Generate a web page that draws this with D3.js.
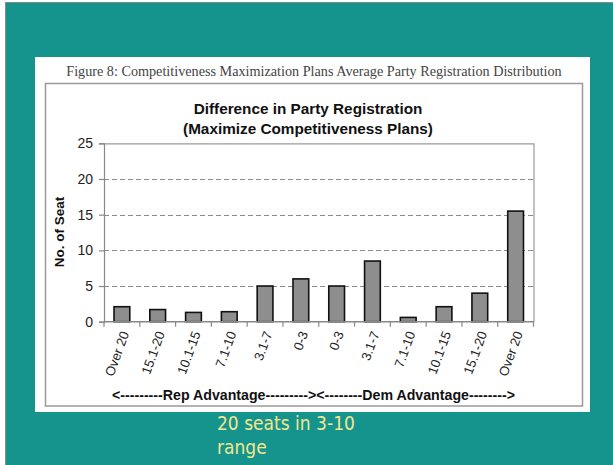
<!DOCTYPE html>
<html><head><meta charset="utf-8">
<script src="https://cdn.jsdelivr.net/npm/d3@7"></script>
<style>html,body{margin:0;padding:0;background:#fff;}svg{display:block;}</style>
</head><body>
<script>
const categories = ["Over 20","15.1-20","10.1-15","7.1-10","3.1-7","0-3","0-3","3.1-7","7.1-10","10.1-15","15.1-20","Over 20"];
const seats = [2.1, 1.7, 1.3, 1.4, 5.0, 6.0, 5.0, 8.5, 0.6, 2.1, 4.0, 15.5];
const yTicks = [0, 5, 10, 15, 20, 25];
const caption = "Figure 8: Competitiveness Maximization Plans Average Party Registration Distribution";
const titleLines = ["Difference in Party Registration", "(Maximize Competitiveness Plans)"];
const yTitle = "No. of Seat";
const groupLabel = "<---------Rep Advantage---------><--------Dem Advantage-------->";
const noteLines = ["20 seats in 3-10", "range"];

const W = 613, H = 465;
const svg = d3.select("body").append("svg").attr("width", W).attr("height", H);

// slide background
svg.append("rect").attr("x", 5.5).attr("y", 2.5).attr("width", W).attr("height", H)
  .attr("fill", "#14948d").attr("stroke", "#8a8a8a").attr("stroke-width", 1);

// white panel
svg.append("rect").attr("x", 35).attr("y", 57).attr("width", 555).attr("height", 355).attr("fill", "#fff");

// caption
svg.append("text").attr("x", 314).attr("y", 75.5).attr("text-anchor", "middle")
  .attr("font-family", "'Liberation Serif','Times New Roman',serif").attr("font-size", 14.2)
  .attr("fill", "#444").text(caption);

// chart box
svg.append("rect").attr("x", 45.5).attr("y", 83.5).attr("width", 537).attr("height", 322.5)
  .attr("fill", "#fff").attr("stroke", "#9a9a9a").attr("stroke-width", 1.5);

// title
svg.append("g").selectAll("text").data(titleLines).join("text")
  .attr("x", 308).attr("y", (d, i) => 113.5 + i * 20).attr("text-anchor", "middle")
  .attr("font-family", "'Liberation Sans',Arial,sans-serif").attr("font-weight", "bold")
  .attr("font-size", 15.3).attr("fill", "#111").text(d => d);

const pL = 104, pR = 533.5, pT = 143.3, pB = 321.7;
const keys = categories.map((c, i) => i);
const x = d3.scaleBand().domain(keys).range([pL, pR]).paddingInner(0.56).paddingOuter(0.28);
const y = d3.scaleLinear().domain([0, 25]).range([pB, pT]);

// plot frame (top/right)
svg.append("path").attr("d", `M${pL},${pT + 0.5}H${pR + 0.5}V${pB}`)
  .attr("fill", "none").attr("stroke", "#9a9a9a").attr("stroke-width", 1.2);

// gridlines
svg.append("g").selectAll("line").data(yTicks.filter(t => t > 0 && t < 25)).join("line")
  .attr("x1", pL).attr("x2", pR).attr("y1", d => Math.round(y(d)) + 0.5).attr("y2", d => Math.round(y(d)) + 0.5)
  .attr("stroke", "#8a8a8a").attr("stroke-width", 1.1).attr("stroke-dasharray", "5,3");

// bars
svg.append("g").selectAll("rect").data(seats).join("rect")
  .attr("x", (d, i) => x(i)).attr("width", x.bandwidth())
  .attr("y", d => y(d)).attr("height", d => y(0) - y(d))
  .attr("fill", "#8e8e8e").attr("stroke", "#111").attr("stroke-width", 1.6);

// y axis
const yAxis = svg.append("g").attr("transform", `translate(${pL},0)`)
  .call(d3.axisLeft(y).tickValues(yTicks).tickSize(5).tickPadding(6).tickFormat(d3.format("d")));
yAxis.select(".domain").attr("stroke", "#888").attr("stroke-width", 1.2);
yAxis.selectAll(".tick line").attr("stroke", "#888").attr("stroke-width", 1.2);
yAxis.selectAll(".tick text").attr("font-family", "'Liberation Sans',Arial,sans-serif")
  .attr("font-size", 14).attr("fill", "#222");

// x axis baseline with boundary ticks
const bounds = d3.range(categories.length + 1).map(i => pL + i * (pR - pL) / categories.length);
const xg = svg.append("g");
xg.append("line").attr("x1", pL).attr("x2", pR + 0.5).attr("y1", pB).attr("y2", pB)
  .attr("stroke", "#888").attr("stroke-width", 1.4);
xg.selectAll("line.tk").data(bounds).join("line").attr("class", "tk")
  .attr("x1", d => d).attr("x2", d => d).attr("y1", pB).attr("y2", pB + 5)
  .attr("stroke", "#888").attr("stroke-width", 1.2);

// category labels
xg.selectAll("text").data(categories).join("text")
  .attr("transform", (d, i) => `translate(${x(i) + x.bandwidth() / 2 + 3},${pB + 10}) rotate(-70)`)
  .attr("text-anchor", "end").attr("dy", "0.35em")
  .attr("font-family", "'Liberation Sans',Arial,sans-serif").attr("font-size", 13.2)
  .attr("fill", "#222").text(d => d);

// y title
svg.append("text").attr("transform", `translate(64,232) rotate(-90)`).attr("text-anchor", "middle")
  .attr("font-family", "'Liberation Sans',Arial,sans-serif").attr("font-weight", "bold")
  .attr("font-size", 13.5).attr("fill", "#111").text(yTitle);

// group label
svg.append("text").attr("x", 112).attr("y", 400)
  .attr("textLength", 403).attr("lengthAdjust", "spacingAndGlyphs")
  .attr("font-family", "'Liberation Sans',Arial,sans-serif").attr("font-weight", "bold")
  .attr("font-size", 14).attr("fill", "#111").text(groupLabel);

// note
svg.append("g").selectAll("text").data(noteLines).join("text")
  .attr("x", 217).attr("y", (d, i) => 430 + i * 24)
  .attr("font-family", "'DejaVu Sans Condensed','DejaVu Sans',Tahoma,sans-serif")
  .attr("font-size", 19).attr("fill", "#f3e68f").text(d => d);
</script>
</body></html>
